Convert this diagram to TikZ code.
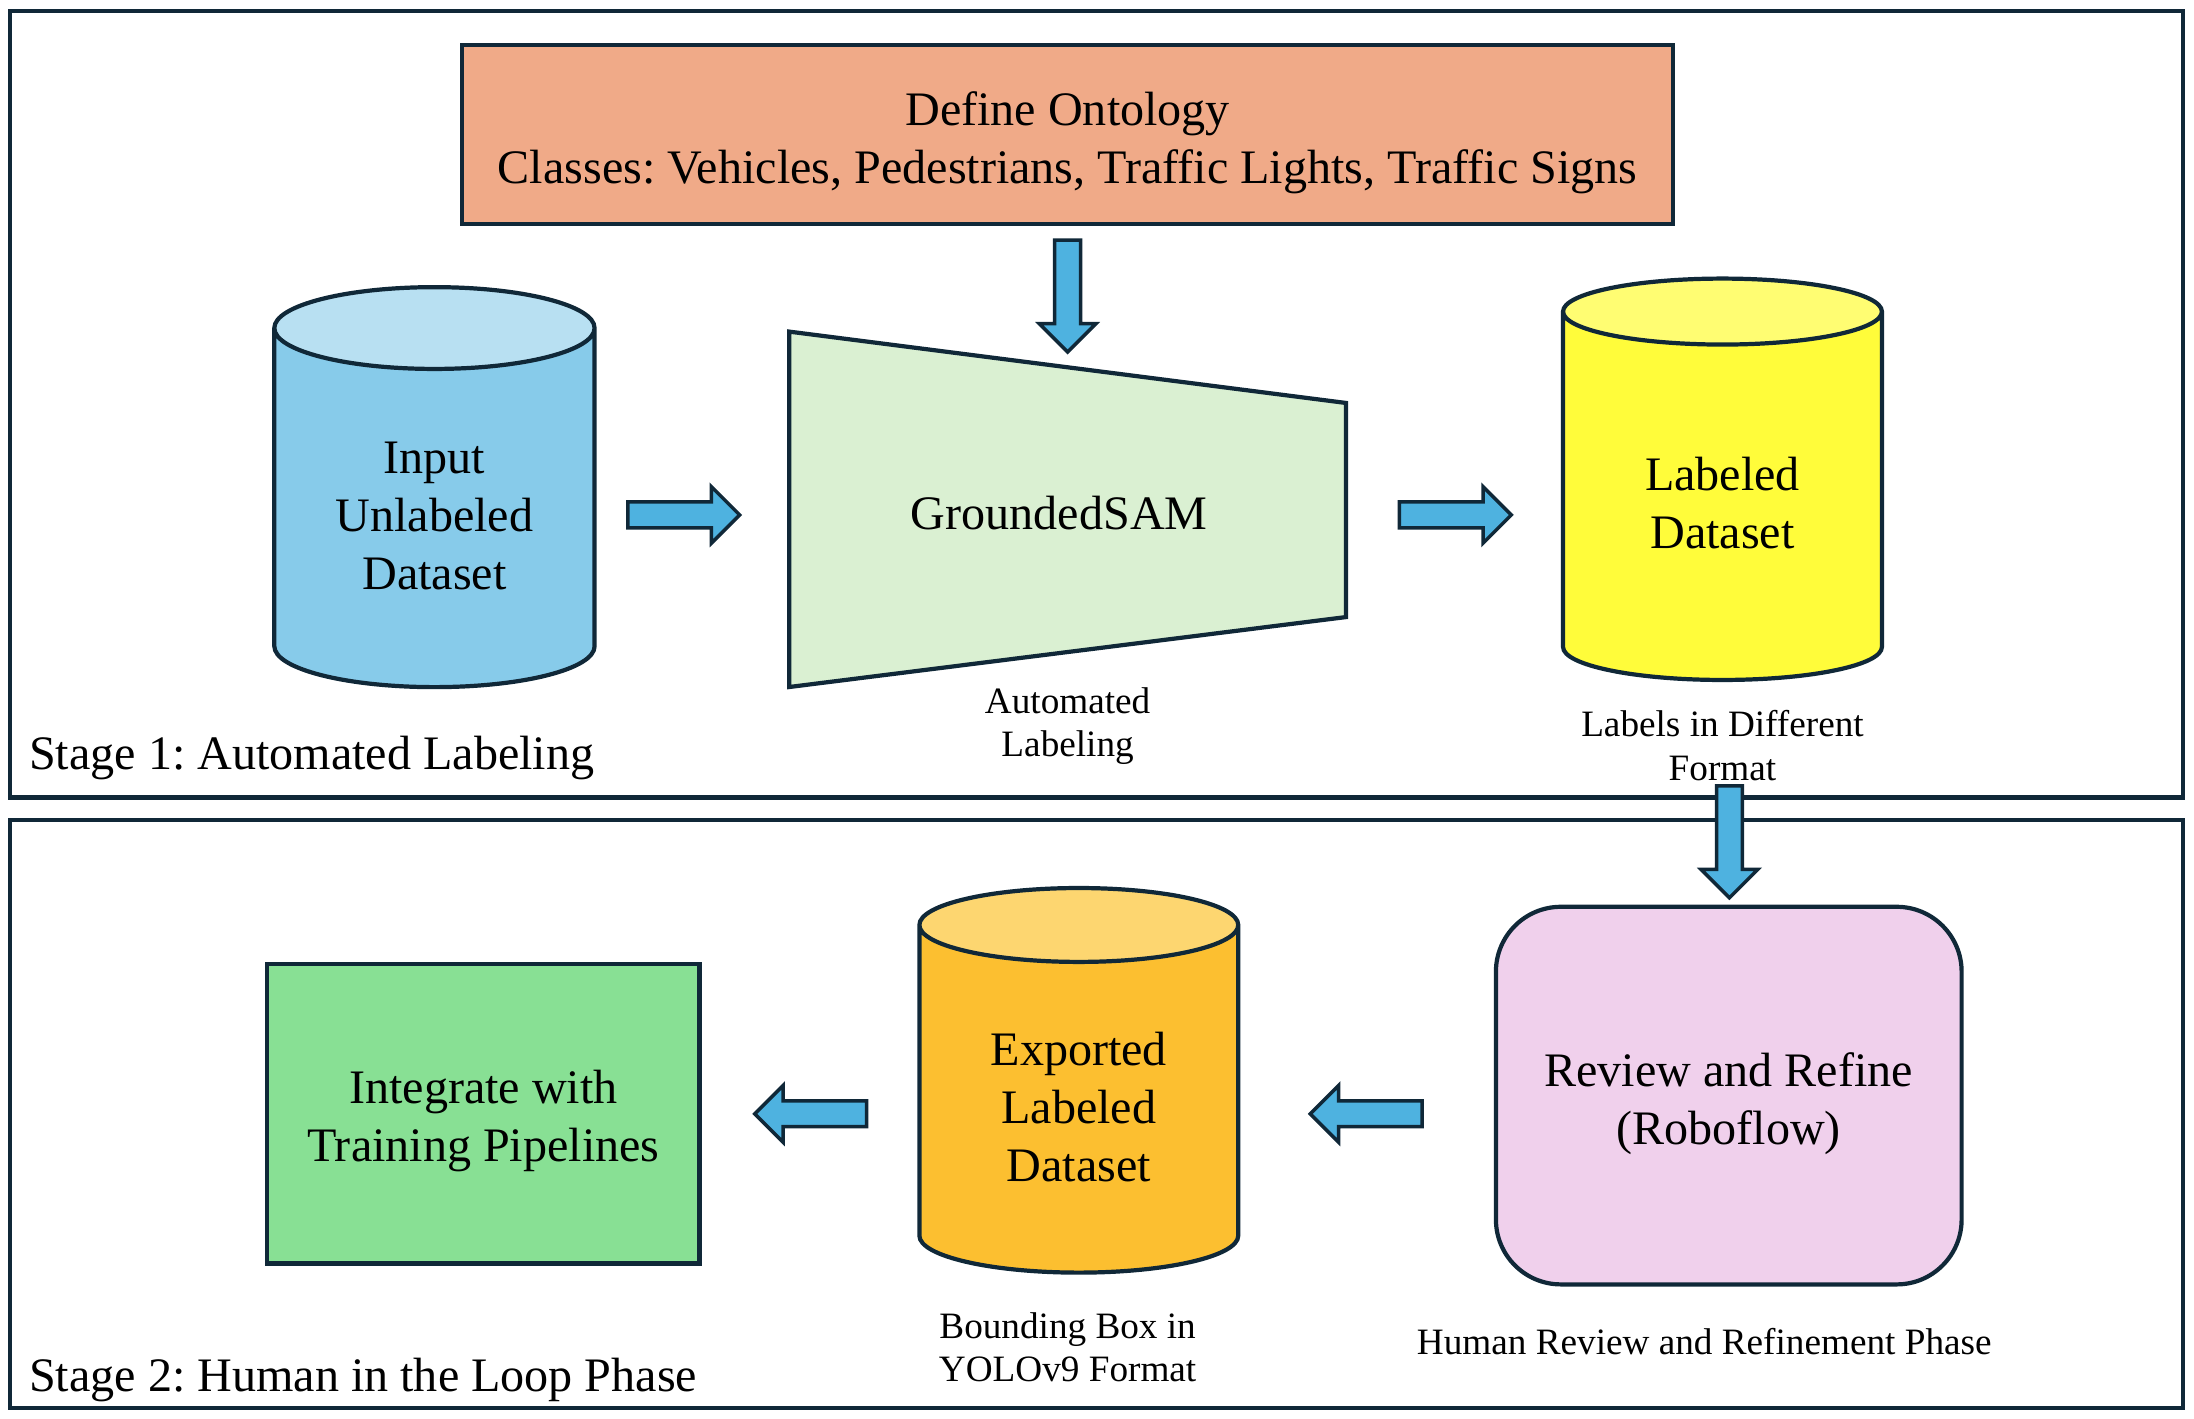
\documentclass[tikz,border=0pt]{standalone}
\usepackage{fontspec}
\setmainfont{Liberation Serif}
\usetikzlibrary{shapes.geometric,shapes.arrows,positioning}
\frenchspacing

\definecolor{linecol}{RGB}{16,40,56}
\definecolor{ontofill}{RGB}{240,170,136}
\definecolor{inbody}{RGB}{135,203,234}
\definecolor{intop}{RGB}{184,224,242}
\definecolor{samfill}{RGB}{218,240,210}
\definecolor{labbody}{RGB}{255,252,58}
\definecolor{labtop}{RGB}{255,253,114}
\definecolor{expbody}{RGB}{252,191,48}
\definecolor{exptop}{RGB}{253,214,112}
\definecolor{revfill}{RGB}{240,208,236}
\definecolor{intfill}{RGB}{136,224,148}
\definecolor{arrowcol}{RGB}{78,178,224}

\begin{document}
\begin{tikzpicture}[
		x=0.014cm, y=-0.014cm,
		bigtext/.style={
				font=\fontsize{13.7}{16.5}\selectfont
			},
		smalltext/.style={
				font=\fontsize{10.6}{12.4}\selectfont,
				align=center
			},
		frame/.style={
				draw=linecol,
				line width=1.2pt
			},
		box/.style={
				draw=linecol,
				line width=1.2pt,
				align=center,
				bigtext
			},
		db/.style={
				draw=linecol,
				line width=1.2pt,
				shape=cylinder,
				shape border rotate=90,
				aspect=0.37,
				cylinder uses custom fill,
				align=center,
				bigtext
			},
		barrow/.style={
				draw=linecol,
				fill=arrowcol,
				line width=1pt,
				shape=single arrow,
				inner sep=0.112cm,
				minimum width=0pt,
				minimum height=1.12cm,
				single arrow head extend=0.154cm
			},
	]
	\useasboundingbox (0,0) rectangle (1568,1014);
	% stage frames
	\draw [frame] (7,8) rectangle (1560,570);
	\draw [frame] (7,586) rectangle (1560,1006);
	\node [bigtext, anchor=west] (st1) at (12,542) {Stage 1: Automated Labeling};
	\node [bigtext, anchor=west] (st2) at (12,986) {Stage 2: Human in the Loop Phase};

	% stage 1
	\node [box, fill=ontofill, minimum width=12.124cm, minimum height=1.792cm] (onto) at (763,96) {\rule{0pt}{14.5pt}Define Ontology\\Classes: Vehicles, Pedestrians, Traffic Lights, Traffic Signs};
	\node [db, cylinder body fill=inbody, cylinder end fill=intop, minimum width=3.206cm, minimum height=4.004cm] (inp) at (310.5,369) {Input\\Unlabeled\\Dataset};
	\coordinate (sam1) at (564,237);
	\coordinate (sam2) at (962,288);
	\coordinate (sam3) at (962,441);
	\coordinate (sam4) at (564,491);
	\draw [frame, fill=samfill] (sam1) -- (sam2) -- (sam3) -- (sam4) -- cycle;
	\node [bigtext] (sam) at (757,367) {GroundedSAM};
	\node [smalltext] (samnote) at (763,519) {Automated\\Labeling};
	\node [db, cylinder body fill=labbody, cylinder end fill=labtop, minimum width=3.192cm, minimum height=4.018cm] (lab) at (1231,359.5) {Labeled\\Dataset};
	\node [smalltext] (labnote) at (1231,533) {Labels in Different\\Format};

	% stage 2
	\node [box, fill=revfill, rounded corners=0.65cm, minimum width=4.662cm, minimum height=3.78cm] (rev) at (1235.5,783) {\rule{0pt}{14.5pt}Review and Refine\\(Roboflow)};
	\node [smalltext] (revnote) at (1218,959) {Human Review and Refinement Phase};
	\node [db, cylinder body fill=expbody, cylinder end fill=exptop, minimum width=3.192cm, minimum height=3.85cm] (exp) at (771,791) {Exported\\Labeled\\Dataset};
	\node [smalltext] (expnote) at (763,963) {Bounding Box in\\YOLOv9 Format};
	\node [box, fill=intfill, minimum width=4.326cm, minimum height=2.996cm] (integ) at (345.5,796) {\rule{0pt}{13.5pt}Integrate with\\Training Pipelines};

	% block arrows
	\node [barrow, shape border rotate=270] (a1) at (763,207) {};
	\node [barrow] (a2) at (484,368) {};
	\node [barrow] (a3) at (1035.5,368) {};
	\node [barrow, shape border rotate=270] (a4) at (1236,597) {};
	\node [barrow, shape border rotate=180] (a5) at (981,796) {};
	\node [barrow, shape border rotate=180] (a6) at (584,796) {};
\end{tikzpicture}
\end{document}
